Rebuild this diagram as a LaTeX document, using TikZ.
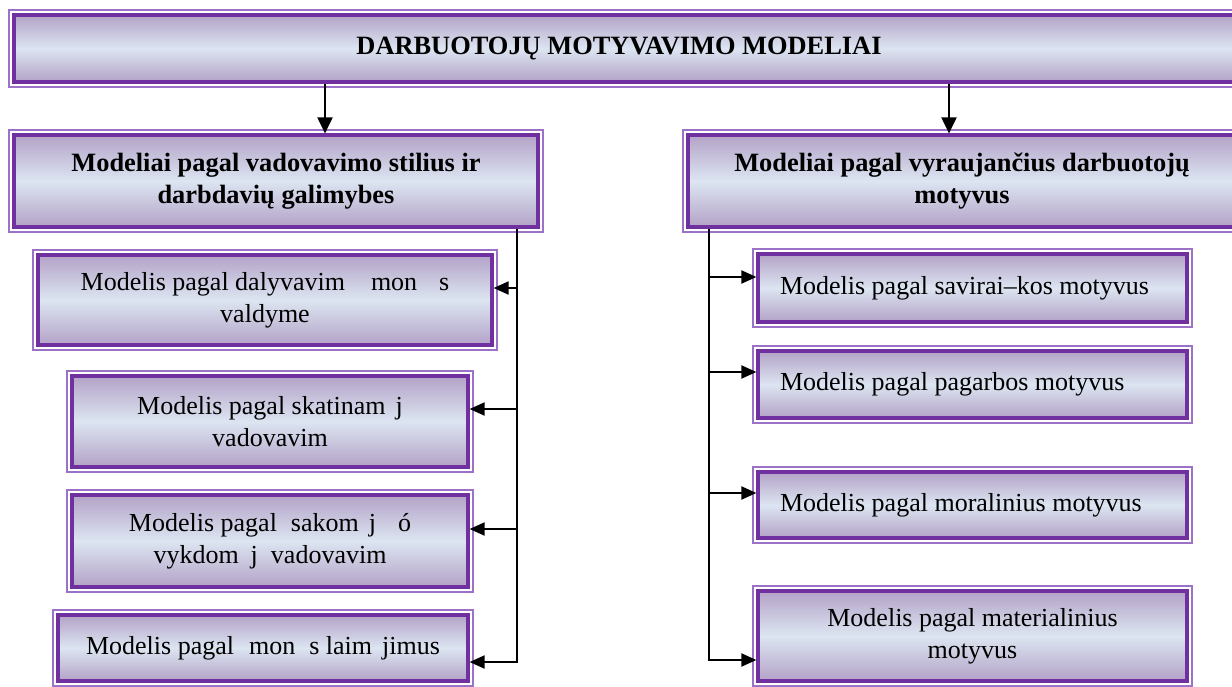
\documentclass[tikz,border=0pt]{standalone}
\usepackage{fontspec}
\setmainfont{Liberation Serif}
\usetikzlibrary{arrows.meta, calc}
\definecolor{mpurple}{HTML}{7030A0}
\definecolor{mlilac}{HTML}{9B72C8}
\definecolor{mshade}{HTML}{B3A2C7}
\definecolor{mpale}{HTML}{DCE5F1}

\begin{document}
\begin{tikzpicture}[x=0.5pt,y=-0.5pt,
  modbox/.style={rectangle,draw=mpurple,line width=1.6pt,
    preaction={draw=mlilac,line width=6pt},
    preaction={draw=white,line width=4pt},
    top color=mshade,bottom color=mshade,middle color=mpale,
    font=\fontsize{13}{16}\selectfont,align=center,inner sep=0pt},
  headbox/.style={modbox,font=\fontsize{13.2}{16}\selectfont\bfseries},
  leftbox/.style={modbox,align=flush left,inner xsep=11pt,text width=192.5pt},
  arr/.style={-{Triangle[length=7.5pt,width=6.5pt]},line width=1pt},
  toparr/.style={-{Triangle[length=8pt,width=7.5pt]},line width=1pt}
]
  \useasboundingbox[fill=white] (0,0) rectangle (1232,686);
  \node[headbox,minimum width=611pt,minimum height=33.5pt](top) at (625,48.5) {\hspace*{-6pt}DARBUOTOJŲ MOTYVAVIMO MODELIAI};
  \node[headbox,minimum width=262pt,minimum height=46pt](styl) at (276,181) {Modeliai pagal vadovavimo stilius ir\\darbdavių galimybes};
  \node[headbox,minimum width=274pt,minimum height=46pt](motv) at (962,181) {Modeliai pagal vyraujančius darbuotojų\\motyvus};

  \node[modbox,minimum width=227pt,minimum height=45pt](A) at (265,300) {Modelis pagal dalyvavim\hspace{13pt}mon\hspace{11pt}s\\valdyme};
  \node[modbox,minimum width=198pt,minimum height=45.5pt](B) at (270,421.5) {Modelis pagal skatinam\hspace{5pt}j\\vadovavim};
  \node[modbox,minimum width=198pt,minimum height=46pt](C) at (270,541) {Modelis pagal\hspace{7pt}sakom\hspace{5pt}j\hspace{11pt}ó\\vykdom\hspace{6pt}j\hspace{6.5pt}vadovavim};
  \node[modbox,minimum width=205pt,minimum height=33pt](D) at (263,648) {Modelis pagal\hspace{7.5pt}mon\hspace{7pt}s laim\hspace{5pt}jimus};

  \node[leftbox,minimum height=34pt](E) at (972.5,288) {Modelis pagal savirai–kos motyvus};
  \node[leftbox,minimum height=33.5pt](F) at (972.5,384.5) {Modelis pagal pagarbos motyvus};
  \node[leftbox,minimum height=33pt](G) at (972.5,505) {Modelis pagal moralinius motyvus};
  \node[modbox,minimum width=214.5pt,minimum height=45pt](H) at (972.5,636) {Modelis pagal materialinius\\motyvus};

  \coordinate (spL) at (517,0);
  \coordinate (spR) at (709,0);

  \draw[toparr] ([xshift=24.5pt]styl.north |- top.south) -- ([xshift=24.5pt]styl.north);
  \draw[toparr] ([xshift=-6.5pt]motv.north |- top.south) -- ([xshift=-6.5pt]motv.north);

  \draw[arr] (styl.south -| spL) |- ([yshift=-7pt]D.east);
  \foreach \n/\dy in {A/6pt,B/6.25pt,C/6pt}
    \draw[arr] ([yshift=\dy]\n.east -| spL) -- ([yshift=\dy]\n.east);

  \draw[arr] (motv.south -| spR) |- ([yshift=-12pt]H.west);
  \foreach \n/\dy in {E/5.5pt,F/6.25pt,G/6pt}
    \draw[arr] ([yshift=\dy]\n.west -| spR) -- ([yshift=\dy]\n.west);
\end{tikzpicture}
\end{document}
